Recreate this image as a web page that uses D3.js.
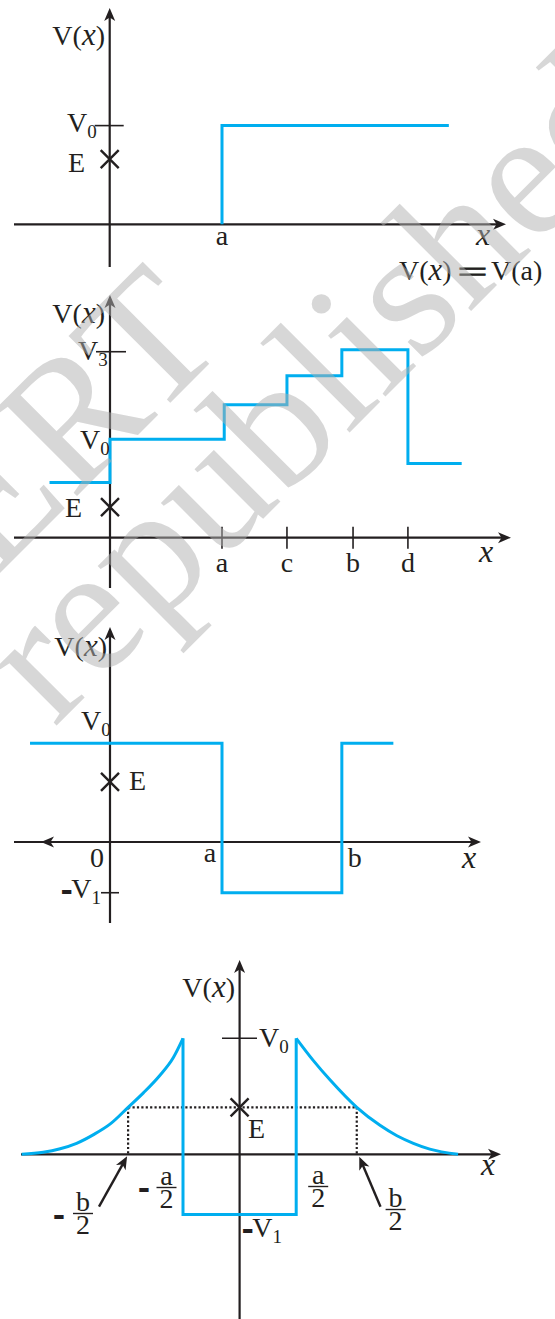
<!DOCTYPE html>
<html>
<head>
<meta charset="utf-8">
<script src="https://cdn.jsdelivr.net/npm/d3@7"></script>
<style>
  body { margin: 0; background: #fff; }
  svg { display: block; }
  text { font-family: "Liberation Serif", "Times New Roman", serif; fill: #231f20; }
</style>
</head>
<body>
<svg id="chart"></svg>
<script>
// ---- data (units: x in multiples of a, V in multiples of V0) ----
// panel 1 : single step
const p1X = [1, 1, 3.02];
const p1V = [0, 1, 1];
const p1E = 0.66;

// panel 2 : staircase
const p2Edges = [-0.54, 0, 1.02, 1.58, 2.07, 2.66, 3.14];
const p2Levels = [0.56, 1.0, 1.35, 1.645, 1.91, 0.755];
const p2Ticks = [1, 1.58, 2.17, 2.66];
const p2TickLabels = ["a", "c", "b", "d"];
const p2V3 = 1.89;
const p2E = 0.31;

// panel 3 : square well
const p3Edges = [-0.714, 1, 2.07, 2.53];
const p3Levels = [1, -0.514, 1];
const p3E = 0.61;

// panel 4 : well with exponential walls (x in units of a/2)
const p4LeftX = [-3.85, -3.47, -3.17, -2.88, -2.58, -2.29, -1.97, -1.70, -1.41, -1.17, -1.0];
const p4LeftV = [0, 0.017, 0.048, 0.095, 0.17, 0.26, 0.405, 0.53, 0.68, 0.835, 1.0];
const p4RightX = [1.0, 1.30, 1.60, 2.07, 2.48, 2.78, 3.07, 3.36, 3.86];
const p4RightV = [1.0, 0.81, 0.64, 0.405, 0.25, 0.16, 0.095, 0.045, 0];
const p4WellX = [-1, 1];
const p4WellV = -0.52;
const p4Turn = [-1.97, 2.07];
const p4E = 0.405;

const ink = "#231f20";
const blue = "#00aeef";

const svg = d3.select("#chart").attr("width", 555).attr("height", 1319);

// pixel layout of each panel: origin, unit lengths, axis extents
const layout = [
  {ox: 109.7, oy: 224.3, ux: 112.3, uy: 98.7, x0: 14, x1: 506, yTop: 8, yBot: 267},
  {ox: 110, oy: 537.7, ux: 112, uy: 98.4, x0: 14, x1: 511, yTop: 295, yBot: 588},
  {ox: 110, oy: 842, ux: 112, uy: 98.7, x0: 14, x1: 481, yTop: 627, yBot: 923},
  {ox: 239.6, oy: 1154.3, ux: 56.6, uy: 116, x0: 21, x1: 501, yTop: 960, yBot: 1319}
];

function scales(p) {
  return {
    x: d3.scaleLinear().domain([0, 1]).range([p.ox, p.ox + p.ux]),
    y: d3.scaleLinear().domain([0, 1]).range([p.oy, p.oy - p.uy])
  };
}

function arrowHead(g, x, y, angle) {
  g.append("path")
    .attr("d", "M0,0 L-13,-5.5 L-9.5,0 L-13,5.5 Z")
    .attr("transform", `translate(${x},${y}) rotate(${angle})`)
    .attr("fill", ink);
}

function drawAxes(g, p) {
  g.append("line").attr("x1", p.x0).attr("x2", p.x1 - 6).attr("y1", p.oy).attr("y2", p.oy)
    .attr("stroke", ink).attr("stroke-width", 2.2);
  arrowHead(g, p.x1, p.oy, 0);
  g.append("line").attr("x1", p.ox).attr("x2", p.ox).attr("y1", p.yBot).attr("y2", p.yTop + 6)
    .attr("stroke", ink).attr("stroke-width", 2.2);
  arrowHead(g, p.ox, p.yTop, -90);
}

function tick(g, x1, y1, x2, y2) {
  g.append("line").attr("x1", x1).attr("y1", y1).attr("x2", x2).attr("y2", y2)
    .attr("stroke", ink).attr("stroke-width", 1.6);
}

function cross(g, x, y) {
  const r = 9;
  g.append("path").attr("d", `M${x - r},${y - r}L${x + r},${y + r}M${x - r},${y + r}L${x + r},${y - r}`)
    .attr("stroke", ink).attr("stroke-width", 2.4).attr("fill", "none");
}

function txt(g, x, y, anchor, size) {
  return g.append("text").attr("x", x).attr("y", y)
    .attr("text-anchor", anchor || "start").style("font-size", (size || 28) + "px");
}

// thick short minus bar, as in the printed figure
function minus(t) {
  t.append("tspan").style("stroke", ink).style("stroke-width", 2).text("-");
}

function vOfX(g, x, y) {
  const t = txt(g, x, y, "end");
  t.append("tspan").text("V(");
  t.append("tspan").style("font-style", "italic").style("font-size", "31px").text("x");
  t.append("tspan").text(")");
}

function vSub(g, x, y, sub, neg) {
  const t = txt(g, x, y, "start");
  if (neg) minus(t);
  t.append("tspan").text("V");
  t.append("tspan").attr("dy", 6).style("font-size", "19px").text(sub);
}

function italicX(g, x, y) {
  txt(g, x, y, "middle", 32).style("font-style", "italic").text("x");
}

const blueLine = (s) => d3.line().x(d => s.x(d[0])).y(d => s.y(d[1]));

function bluePath(g, pts, line) {
  g.append("path").datum(pts).attr("d", line)
    .attr("fill", "none").attr("stroke", blue).attr("stroke-width", 3)
    .attr("stroke-linejoin", "miter").attr("stroke-linecap", "butt");
}

// ---------- panel 1 ----------
{
  const p = layout[0], s = scales(p), g = svg.append("g");
  drawAxes(g, p);
  tick(g, p.ox - 15, s.y(1), p.ox + 14, s.y(1));
  bluePath(g, p1X.map((x, i) => [x, p1V[i]]), blueLine(s));
  cross(g, p.ox, s.y(p1E));
  vOfX(g, 105, 45);
  vSub(g, 67, 132, "0");
  txt(g, 68, 172).text("E");
  txt(g, s.x(1), p.oy + 21, "middle").text("a");
  italicX(g, 483, 245);
  // V(x) = V(a)
  const t = txt(g, 399, 280);
  t.append("tspan").text("V(");
  t.append("tspan").style("font-style", "italic").style("font-size", "31px").text("x");
  t.append("tspan").text(")");
  g.append("text").attr("text-anchor", "middle").style("font-size", "28px")
    .style("stroke", ink).style("stroke-width", 0.8)
    .attr("transform", "translate(472.5,281) scale(1.9,1)").text("=");
  txt(g, 491, 280).text("V(a)");
}

// ---------- panel 2 ----------
{
  const p = layout[1], s = scales(p), g = svg.append("g");
  drawAxes(g, p);
  tick(g, p.ox - 14, s.y(p2V3), p.ox + 16, s.y(p2V3));
  p2Ticks.forEach((v, i) => {
    tick(g, s.x(v), p.oy - 11, s.x(v), p.oy + 11);
    txt(g, s.x(v), p.oy + 34, "middle").text(p2TickLabels[i]);
  });
  const pts = p2Levels.map((v, i) => [p2Edges[i], v]);
  pts.push([p2Edges[p2Edges.length - 1], p2Levels[p2Levels.length - 1]]);
  bluePath(g, pts, blueLine(s).curve(d3.curveStepAfter));
  cross(g, p.ox, s.y(p2E));
  vOfX(g, 105, 323);
  vSub(g, 78, 360, "3");
  vSub(g, 80, 449, "0");
  txt(g, 65, 517).text("E");
  italicX(g, 486, 562);
}

// ---------- panel 3 ----------
{
  const p = layout[2], s = scales(p), g = svg.append("g");
  drawAxes(g, p);
  arrowHead(g, 41, p.oy, 180);
  tick(g, p.ox - 9, s.y(p3Levels[1]), p.ox + 9, s.y(p3Levels[1]));
  const pts = p3Levels.map((v, i) => [p3Edges[i], v]);
  pts.push([p3Edges[p3Edges.length - 1], p3Levels[p3Levels.length - 1]]);
  bluePath(g, pts, blueLine(s).curve(d3.curveStepAfter));
  cross(g, p.ox, s.y(p3E));
  vOfX(g, 107, 656);
  vSub(g, 81, 730, "0");
  txt(g, 129, 790).text("E");
  txt(g, p.ox - 13, p.oy + 25, "middle").text("0");
  txt(g, s.x(p3Edges[1]) - 12, p.oy + 20, "middle").text("a");
  txt(g, s.x(p3Edges[2]) + 13, p.oy + 25, "middle").text("b");
  italicX(g, 469, 868);
  vSub(g, 62, 898, "1", true);
}

// ---------- panel 4 ----------
{
  const p = layout[3], s = scales(p), g = svg.append("g");
  drawAxes(g, p);
  tick(g, p.ox - 17.6, s.y(1), p.ox + 17.4, s.y(1));
  // dotted turning-point guides
  const dot = (x1, y1, x2, y2) => g.append("line").attr("x1", x1).attr("y1", y1).attr("x2", x2).attr("y2", y2)
    .attr("stroke", ink).attr("stroke-width", 2.2).attr("stroke-dasharray", "2.2,2.2");
  dot(s.x(p4Turn[0]), s.y(p4E), s.x(p4Turn[1]), s.y(p4E));
  p4Turn.forEach(t => dot(s.x(t), s.y(p4E), s.x(t), p.oy));

  const curve = blueLine(s).curve(d3.curveMonotoneX);
  bluePath(g, p4LeftX.map((x, i) => [x, p4LeftV[i]]), curve);
  bluePath(g, p4RightX.map((x, i) => [x, p4RightV[i]]), curve);
  bluePath(g, [[p4WellX[0], 1], [p4WellX[0], p4WellV], [p4WellX[1], p4WellV], [p4WellX[1], 1]], blueLine(s));
  cross(g, p.ox, s.y(p4E));

  // pointer arrows to the turning points
  const pointer = (tx, ty, fx, fy) => {
    const ang = Math.atan2(ty - fy, tx - fx) * 180 / Math.PI;
    const back = 6, dx = Math.cos(ang * Math.PI / 180) * back, dy = Math.sin(ang * Math.PI / 180) * back;
    g.append("line").attr("x1", fx).attr("y1", fy).attr("x2", tx - dx).attr("y2", ty - dy)
      .attr("stroke", ink).attr("stroke-width", 2.4);
    arrowHead(g, tx, ty, ang);
  };
  pointer(s.x(p4Turn[0]) - 1, p.oy + 2, 99, 1206.7);
  pointer(s.x(p4Turn[1]) + 2.5, p.oy + 2.4, 380.5, 1206.7);

  vOfX(g, 235, 997);
  vSub(g, 259, 1047, "0");
  txt(g, 248, 1138).text("E");
  italicX(g, 488, 1175);
  vSub(g, 243, 1237, "1", true);

  // fraction labels
  const frac = (cx, yTop, num, minusX, minusY) => {
    txt(g, cx, yTop, "middle").text(num);
    g.append("line").attr("x1", cx - 10).attr("x2", cx + 10).attr("y1", yTop + 2.5).attr("y2", yTop + 2.5)
      .attr("stroke", ink).attr("stroke-width", 1.4);
    txt(g, cx, yTop + 23, "middle").text("2");
    if (minusX != null) minus(txt(g, minusX, minusY, "middle"));
  };
  frac(s.x(p4WellX[0]) - 16.5, 1185, "a", 144, 1196);
  frac(s.x(p4WellX[1]) + 22, 1184, "a");
  frac(83, 1211, "b", 59, 1223);
  frac(395.6, 1207, "b");
}

// ---------- watermark ----------
const wm = svg.append("g").style("opacity", 0.5).style("pointer-events", "none");
wm.append("text").attr("transform", "translate(-185,758) rotate(-45)")
  .style("font-size", "182px").style("fill", "#b0b0b0").text("NCERT");
wm.append("text").attr("transform", "translate(54,728) rotate(-45)")
  .style("font-size", "182px").style("fill", "#b0b0b0").text("republished");
</script>
</body>
</html>
